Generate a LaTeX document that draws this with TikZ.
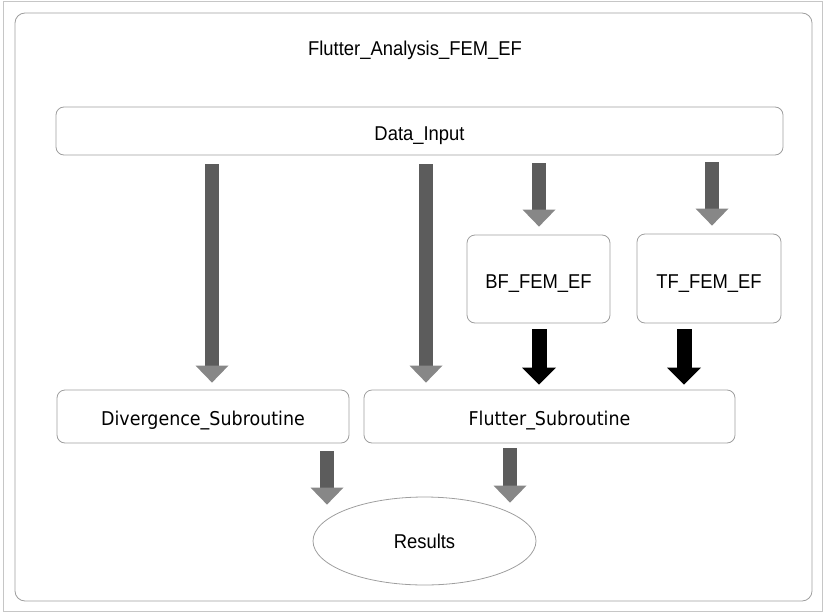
\documentclass[tikz,border=0pt]{standalone}
\usepackage{fontspec}
\usepackage{tikz}
\usetikzlibrary{arrows.meta,shapes.geometric}
\setmainfont{Liberation Sans}
\newfontfamily\labfont[FakeStretch=0.92]{Liberation Sans}
\newfontfamily\subfont[FakeStretch=0.92]{DejaVu Sans}
\definecolor{boxline}{rgb}{0.62,0.62,0.62}
\definecolor{shaftgray}{rgb}{0.36,0.36,0.36}
\definecolor{headgray}{rgb}{0.53,0.53,0.53}

\begin{document}
\begin{tikzpicture}[x=1pt,y=1pt,yscale=-1,xscale=1,
    procbox/.style={draw=boxline,line width=0.8pt,rounded corners=8pt,inner sep=0pt,
        text height=19pt,text depth=0pt,font=\labfont\fontsize{20}{24}\selectfont},
    subbox/.style={procbox,text height=18.5pt,font=\subfont\fontsize{19}{23}\selectfont},
    grayarrow/.style={draw=shaftgray,line width=14pt,
        -{Triangle[length=17pt,width=33pt,line width=0pt,color=headgray]}},
    blackarrow/.style={draw=black,line width=15pt,
        -{Triangle[length=17pt,width=34pt,line width=0pt]}}]
    \useasboundingbox (0,0) rectangle (824,613);

    %Shape: Rectangle [scan border]
    \draw [draw=gray!45,line width=0.6pt] (3,1.5) rectangle (822,611);
    %Shape: Rectangle [outer frame]
    \draw [draw=boxline,line width=0.8pt,rounded corners=10pt] (15,13) rectangle (812,601);

    % Text Node
    \node (title) [anchor=base,inner sep=0pt,font=\labfont\fontsize{20}{24}\selectfont] at (415,55) {Flutter\_Analysis\_FEM\_EF};
    % Box Nodes
    \node (datainput) [procbox,minimum width=727pt,minimum height=48pt] at (419.5,131) {Data\_Input};
    \node (bffem) [procbox,minimum width=143pt,minimum height=88pt] at (538.5,279) {BF\_FEM\_EF};
    \node (tffem) [procbox,minimum width=144pt,minimum height=89pt] at (709,278.5) {TF\_FEM\_EF};
    \node (divsub) [subbox,minimum width=292pt,minimum height=53pt] at (203,416.5) {Divergence\_Subroutine};
    \node (fluttersub) [subbox,minimum width=371pt,minimum height=53pt] at (549.5,416.5) {Flutter\_Subroutine};
    % Ellipse Node
    \node (results) [ellipse,draw=boxline,line width=0.8pt,inner sep=0pt,minimum width=223pt,minimum height=88pt,
        text height=14.3pt,text depth=0pt,font=\labfont\fontsize{20}{24}\selectfont] at (424.5,541) {Results};

    % arrow columns
    \coordinate (xdiv) at (212,0);
    \coordinate (xflut) at (426,0);
    \coordinate (xbf) at (539,0);
    \coordinate (xtf) at (712,0);
    \coordinate (xtfout) at (684,0);
    \coordinate (xdivout) at (327,0);
    \coordinate (xflutout) at (510,0);

    %Arrows from Data_Input
    \draw [grayarrow,shorten <=9pt,shorten >=7pt] (datainput.south -| xdiv) -- (divsub.north -| xdiv);
    \draw [grayarrow,shorten <=9pt,shorten >=7pt] (datainput.south -| xflut) -- (fluttersub.north -| xflut);
    \draw [grayarrow,shorten <=8pt,shorten >=8pt] (datainput.south -| xbf) -- (bffem.north -| xbf);
    \draw [grayarrow,shorten <=7pt,shorten >=8pt] (datainput.south -| xtf) -- (tffem.north -| xtf);
    %Arrows into Flutter_Subroutine
    \draw [blackarrow,shorten <=6pt,shorten >=5pt] (bffem.south -| xbf) -- (fluttersub.north -| xbf);
    \draw [blackarrow,shorten <=6pt,shorten >=5pt] (tffem.south -| xtfout) -- (fluttersub.north -| xtfout);
    %Arrows into Results
    \draw [grayarrow,shorten <=8pt,shorten >=-8pt] (divsub.south -| xdivout) -- (results.north -| xdivout);
    \draw [grayarrow,shorten <=5pt,shorten >=-6pt] (fluttersub.south -| xflutout) -- (results.north -| xflutout);

\end{tikzpicture}
\end{document}
